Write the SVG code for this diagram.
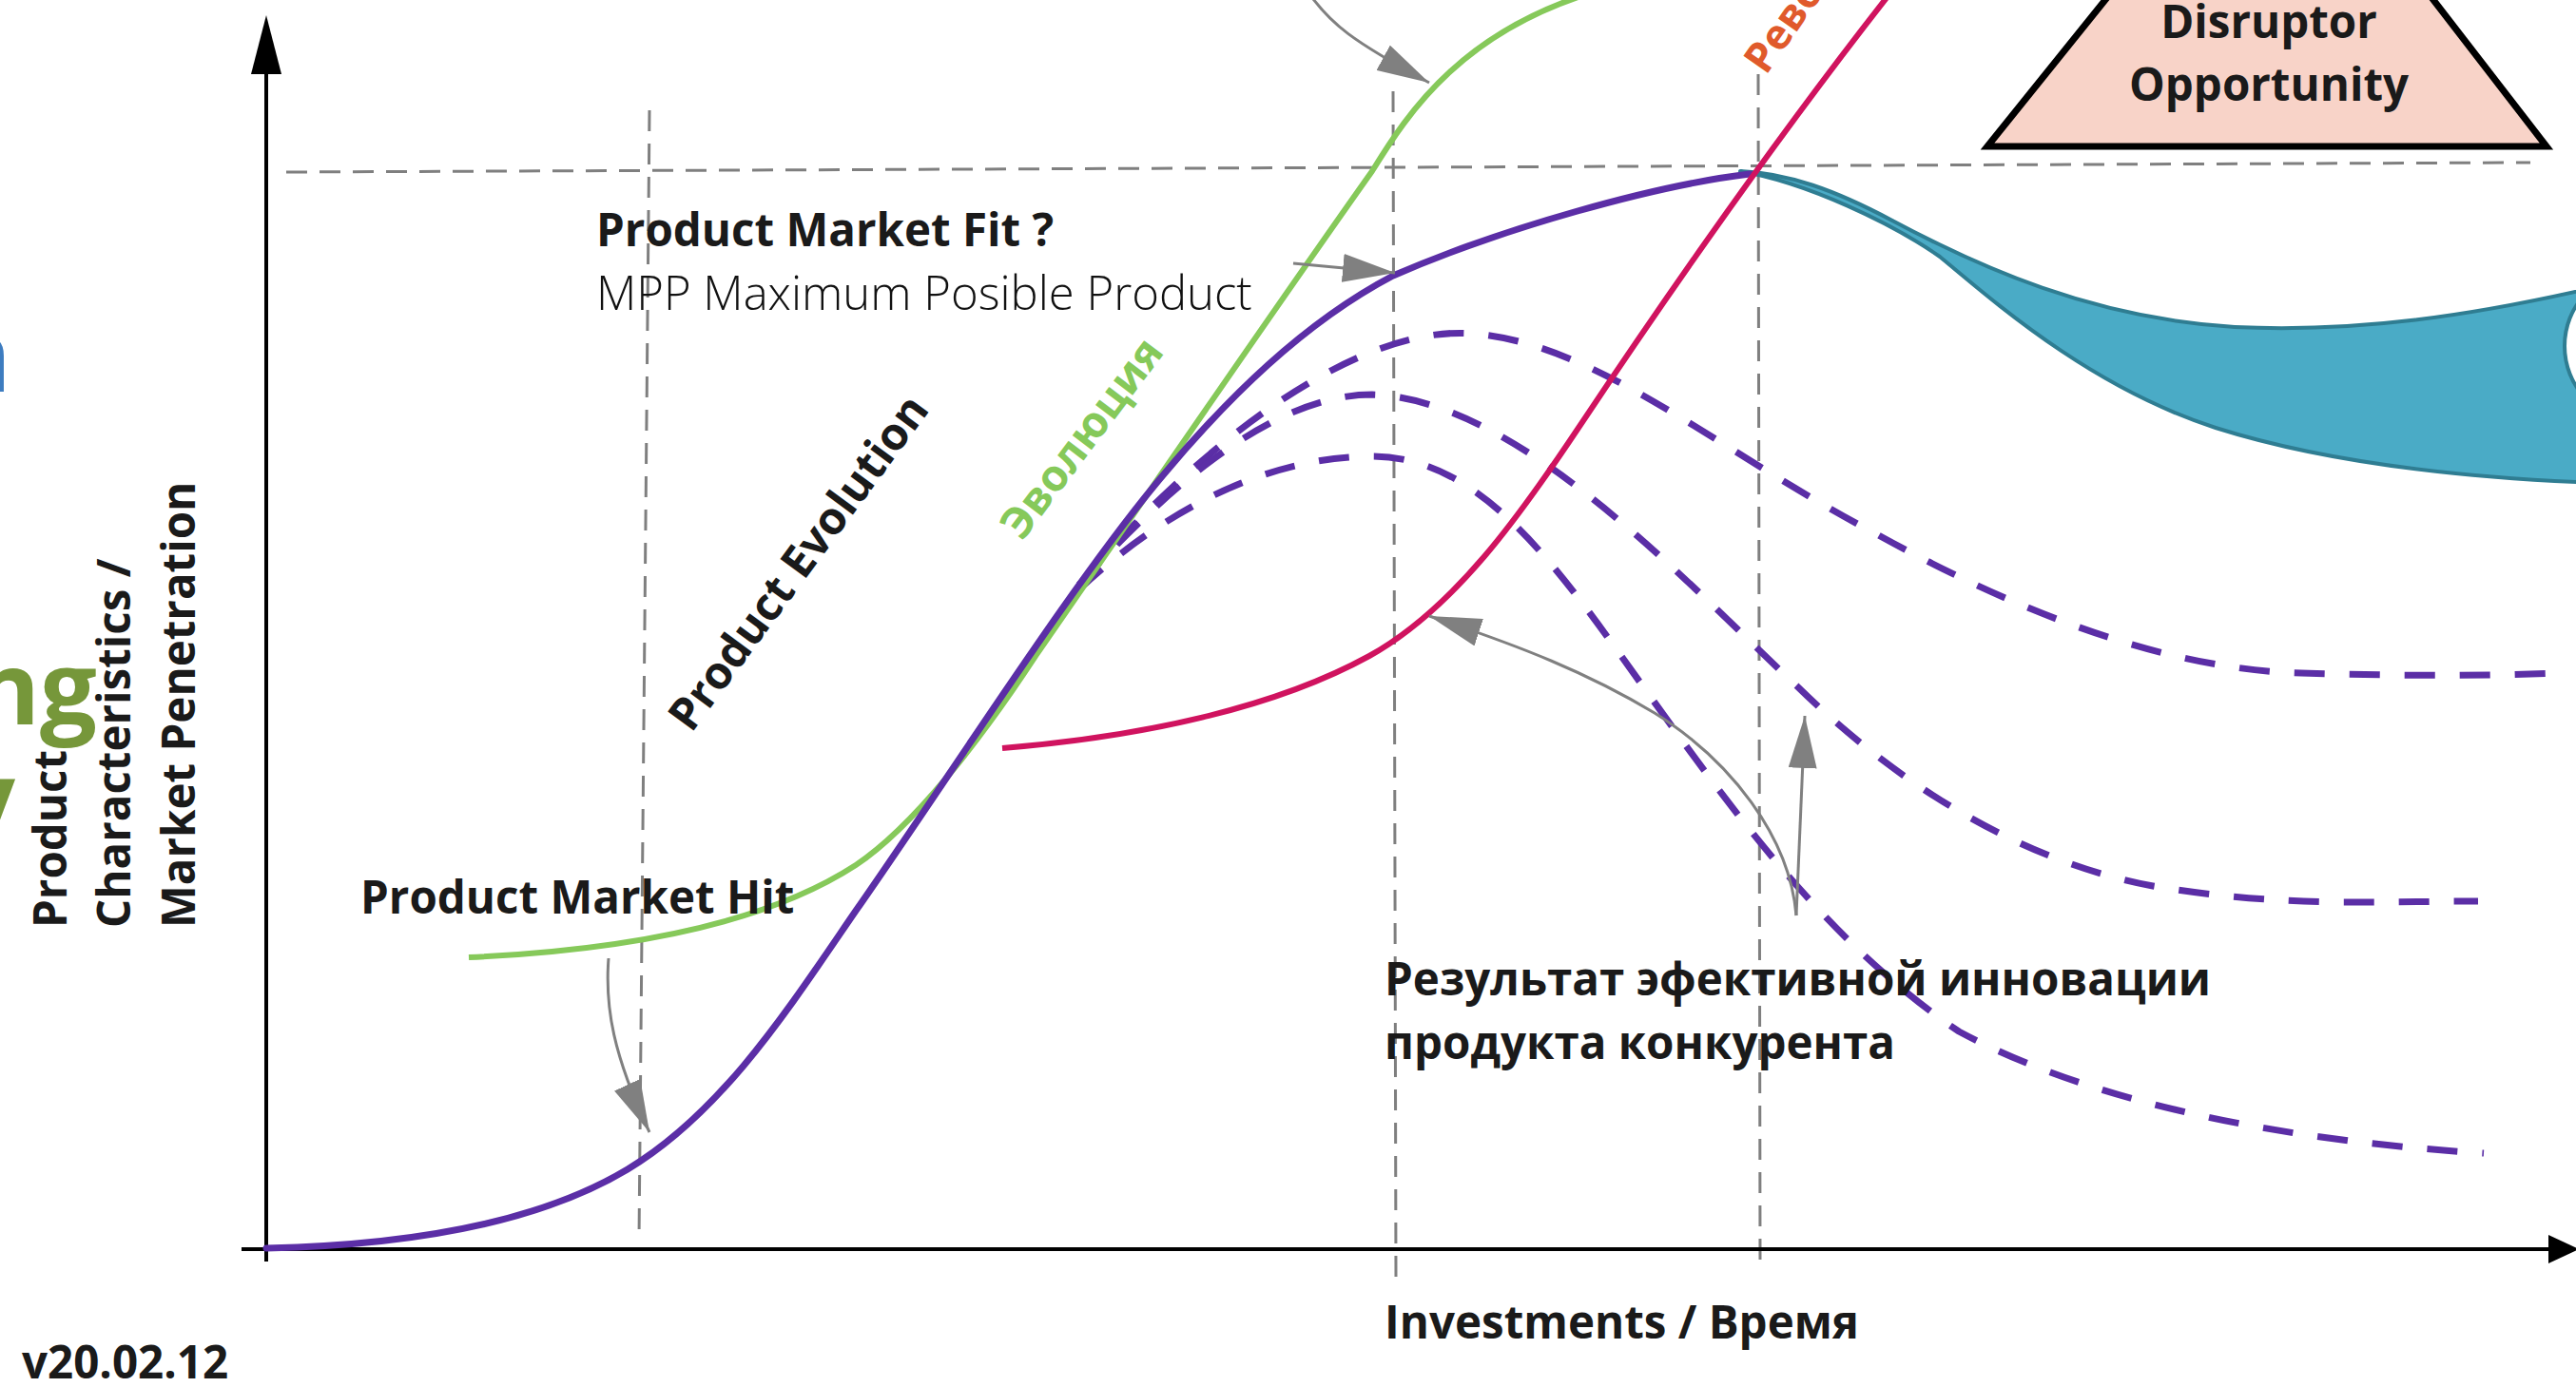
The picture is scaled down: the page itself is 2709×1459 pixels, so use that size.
<svg xmlns="http://www.w3.org/2000/svg" width="2709" height="1459" viewBox="0 0 2709 1459">
<defs>
<style>
.lbl{font-family:"Open Sans","Liberation Sans",sans-serif;font-weight:700;font-size:47.5px;fill:#1a1a1a}
.thin{font-family:"Open Sans","Liberation Sans",sans-serif;font-weight:300;font-size:49px;fill:#111111}
.guide{fill:none;stroke:#7f7f7f;stroke-width:3;stroke-dasharray:22 13}
.dash{fill:none;stroke:#5b2ea6;stroke-width:7;stroke-dasharray:32 26}
.gray{fill:none;stroke:#808080;stroke-width:3}
.big{font-family:"Open Sans","Liberation Sans",sans-serif;font-weight:700;font-size:106px}
</style>
<marker id="ah" markerUnits="userSpaceOnUse" markerWidth="56" markerHeight="30" refX="55" refY="15" orient="auto" viewBox="0 0 56 30">
<path d="M0,0 L55,15 L0,30 Z" fill="#808080"/>
</marker>
</defs>
<rect width="2709" height="1459" fill="#ffffff"/>

<g id="title-fragments">
<text class="big" x="12" y="412" text-anchor="end" fill="#3d7cc0">n</text>
<text class="big" x="102" y="762" text-anchor="end" fill="#76973a">ng</text>
<text class="big" x="16" y="878" text-anchor="end" fill="#76973a">y</text>
</g>

<g id="guides">
<path class="guide" d="M301,181 L2661,171"/>
<path class="guide" d="M683,116 L672,1305"/>
<path class="guide" d="M1465,96 L1468,1344"/>
<path class="guide" d="M1849,78 L1851,1330"/>
</g>

<g id="axes">
<path d="M280,70 L280,1327" stroke="#000" stroke-width="4" fill="none"/>
<polygon points="280,16 264,78 296,78" fill="#000"/>
<path d="M254,1314 L2685,1314" stroke="#000" stroke-width="4" fill="none"/>
<polygon points="2712,1314 2680,1299 2680,1329" fill="#000"/>
</g>

<g id="disruptor">
<polygon points="2090,154 2390,-219 2678,154" fill="#f8d3c8" stroke="#000" stroke-width="7" stroke-linejoin="miter"/>
<text class="lbl" x="2386" y="40" text-anchor="middle">Disruptor</text>
<text class="lbl" x="2386" y="106" text-anchor="middle">Opportunity</text>
</g>

<g id="teal-band">
<path d="M1830,180 C1880,182 1930,200 1990,232 C2080,280 2200,335 2350,344 C2480,350 2600,332 2730,302 L2730,508 C2600,503 2450,488 2330,450 C2200,408 2100,320 2040,270 C1990,235 1900,192 1830,180 Z" fill="#4aabc6" stroke="#2f7d92" stroke-width="4" stroke-linejoin="round"/>
<circle cx="2777" cy="364" r="80" fill="#ffffff" stroke="#2f7d92" stroke-width="4"/>
</g>

<g id="competitor-curves">
<path class="dash" d="M1135,615 C1250,480 1420,340 1550,351 C1680,362 1800,470 1970,560 C2150,660 2300,705 2420,708 C2550,712 2640,710 2690,708"/>
<path class="dash" d="M1135,615 C1230,510 1340,415 1443,415 C1600,420 1780,620 1890,722 C1990,820 2120,905 2264,932 C2400,955 2500,948 2606,948"/>
<path class="dash" d="M1135,620 C1220,540 1330,480 1443,480 C1560,480 1640,600 1730,725 C1820,850 1920,990 2060,1085 C2200,1160 2400,1200 2612,1213"/>
</g>

<g id="green-curve">
<path d="M493,1007 C650,1000 800,975 900,910 C960,870 1030,780 1089,690 C1200,530 1340,325 1443,180 C1480,120 1540,25 1700,-15" fill="none" stroke="#86c95a" stroke-width="6"/>
</g>

<g id="purple-curve">
<path d="M280,1313 C420,1310 560,1290 660,1230 C760,1170 830,1060 900,958 C1000,815 1130,610 1223,500 C1290,420 1370,340 1465,290 C1580,240 1740,195 1840,183" fill="none" stroke="#5b2ea6" stroke-width="7" stroke-linecap="round"/>
</g>

<g id="pink-curve">
<path d="M1054,787 C1200,775 1340,745 1440,690 C1530,640 1600,540 1660,450 C1760,300 1880,130 1990,-10" fill="none" stroke="#d0135f" stroke-width="6"/>
</g>

<g id="connectors">
<path class="gray" d="M1378,-5 C1400,25 1420,42 1503,87" marker-end="url(#ah)"/>
<path class="gray" d="M1360,277 L1467,287" marker-end="url(#ah)"/>
<path class="gray" d="M640,1008 C636,1060 645,1110 683,1191" marker-end="url(#ah)"/>
<path class="gray" d="M1889,963 C1882,880 1820,800 1740,750 C1670,708 1600,680 1503,648" marker-end="url(#ah)"/>
<path class="gray" d="M1889,963 L1898,753" marker-end="url(#ah)"/>
</g>

<g id="labels">
<text class="lbl" x="627" y="259">Product Market Fit ?</text>
<text class="thin" x="627" y="326">MPP Maximum Posible Product</text>
<text class="lbl" x="379" y="961">Product Market Hit</text>
<text class="lbl" transform="translate(727,772) rotate(-53.6)">Product Evolution</text>
<text class="lbl" transform="translate(1075,570) rotate(-53)" style="fill:#86c95a;font-size:46px">Эволюция</text>
<text class="lbl" transform="translate(1857,80) rotate(-55)" style="fill:#e05a2b;font-size:44px">Революция</text>
<text class="lbl" x="1456" y="1047">Результат эфективной инновации</text>
<text class="lbl" x="1456" y="1114">продукта конкурента</text>
<text class="lbl" x="1456" y="1408">Investments / Время</text>
<text class="lbl" x="23" y="1450">v20.02.12</text>
</g>

<g id="y-label">
<text class="lbl" transform="translate(70,976) rotate(-90)">Product</text>
<text class="lbl" transform="translate(137,976) rotate(-90)">Characteristics /</text>
<text class="lbl" transform="translate(205,976) rotate(-90)">Market Penetration</text>
</g>
</svg>
